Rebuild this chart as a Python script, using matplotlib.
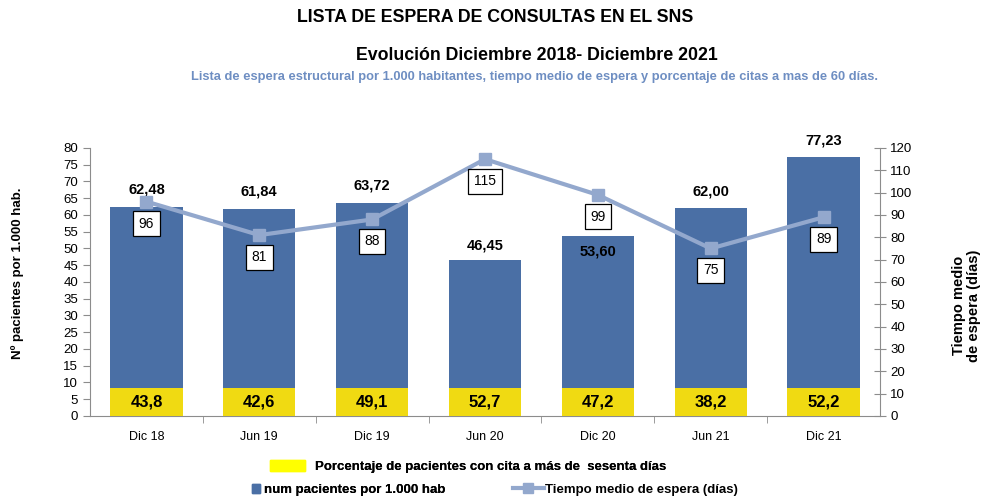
# Lista de espera de consultas en el SNS: barras + linea con doble eje
import numpy as np
import matplotlib
matplotlib.use("Agg")
import matplotlib.pyplot as plt
from matplotlib.patches import Patch
from matplotlib.lines import Line2D

periodos = ["Dic 18", "Jun 19", "Dic 19", "Jun 20", "Dic 20", "Jun 21", "Dic 21"]
pacientes_1000 = [62.48, 61.84, 63.72, 46.45, 53.60, 62.00, 77.23]
tiempo_medio = [96, 81, 88, 115, 99, 75, 89]
pct_mas_60 = [43.8, 42.6, 49.1, 52.7, 47.2, 38.2, 52.2]

AZUL = "#4A6FA5"
LINEA = "#93A8CD"
AMARILLO = "#F0DA12"
GRIS = "#8C8C8C"

plt.rcParams["font.family"] = ["Liberation Sans", "DejaVu Sans"]

fig = plt.figure(figsize=(9.87, 5.01), dpi=100)
ax = fig.add_axes([0.0912, 0.1697, 0.8004, 0.5349])
ax2 = ax.twinx()

x = np.arange(len(periodos))
ancho = 0.64
ax.bar(x, pacientes_1000, width=ancho, color=AZUL, zorder=2)

# cajas amarillas con el porcentaje al pie de cada barra
alto_caja = 8.4
ax.bar(x, [alto_caja] * len(x), width=ancho, color=AMARILLO, zorder=3)
for xi, p in zip(x, pct_mas_60):
    ax.text(xi, alto_caja / 2, f"{p:.1f}".replace(".", ","), ha="center", va="center",
            fontsize=12, fontweight="bold", zorder=4)

# etiquetas de las barras (Dic 20 queda dentro de la barra en el original)
despl = [17, 17, 17, 15, -15, 17, 17]
for xi, v, d in zip(x, pacientes_1000, despl):
    ax.annotate(f"{v:.2f}".replace(".", ","), (xi, v), xytext=(0, d * 0.72),
                textcoords="offset points", ha="center", va="center",
                fontsize=10.5, fontweight="bold", zorder=5)

ax2.plot(x, tiempo_medio, color=LINEA, lw=3, marker="s", ms=8, zorder=6)
for xi, t in zip(x, tiempo_medio):
    ax2.annotate(str(t), (xi, t), xytext=(0, -22 * 0.72), textcoords="offset points",
                 ha="center", va="center", fontsize=10, zorder=7,
                 bbox=dict(boxstyle="square,pad=0.4", fc="white", ec="black", lw=0.9))
ax2.set_zorder(ax.get_zorder() + 1)
ax2.patch.set_visible(False)

ax.set_xlim(-0.5, len(x) - 0.5)
ax.set_ylim(0, 80)
ax.set_yticks(np.arange(0, 81, 5))
ax2.set_ylim(0, 120)
ax2.set_yticks(np.arange(0, 121, 10))

ax.set_xticks(x)
ax.set_xticklabels(periodos, fontsize=9)
ax.set_xticks(np.arange(0.5, len(x) - 0.5), minor=True)
ax.tick_params(axis="x", which="major", length=0, pad=11)
ax.tick_params(axis="x", which="minor", length=5, color=GRIS, direction="out")
ax.tick_params(axis="y", length=5, color=GRIS, labelsize=9.5)
ax2.tick_params(axis="y", length=8, color=GRIS, direction="inout", labelsize=9.5)

for a in (ax, ax2):
    a.spines["top"].set_visible(False)
    for s in ("left", "right", "bottom"):
        a.spines[s].set_color(GRIS)
ax.spines["right"].set_visible(False)
ax2.spines["left"].set_visible(False)
ax2.spines["bottom"].set_visible(False)

fig.text(0.018, 0.455, "Nº pacientes por 1.000 hab.", rotation=90, ha="center", va="center",
         fontsize=9.5, fontweight="bold")
fig.text(0.979, 0.39, "Tiempo medio\nde espera (días)", rotation=90, ha="center", va="center",
         fontsize=10.5, fontweight="bold", linespacing=1.1)

fig.text(0.502, 0.965, "LISTA DE ESPERA DE CONSULTAS EN EL SNS", ha="center", va="center",
         fontsize=12.8, fontweight="bold")
fig.text(0.544, 0.89, "Evolución Diciembre 2018- Diciembre 2021", ha="center", va="center",
         fontsize=12.8, fontweight="bold")
fig.text(0.542, 0.847, "Lista de espera estructural por 1.000 habitantes, tiempo medio de espera y "
         "porcentaje de citas a mas de 60 días.", ha="center", va="center",
         fontsize=9.3, fontweight="bold", color="#6E8EC2")

# leyenda
props = dict(size=9.5, weight="bold")
leg1 = fig.legend(handles=[Patch(color="#FFFF00")],
                  labels=["Porcentaje de pacientes con cita a más de  sesenta días"],
                  loc="center left", bbox_to_anchor=(0.262, 0.069), frameon=False,
                  handlelength=2.6, handleheight=0.9, prop=props)
leg2 = fig.legend(handles=[Patch(color=AZUL)], labels=["num pacientes por 1.000 hab"],
                  loc="center left", bbox_to_anchor=(0.243, 0.022), frameon=False,
                  handlelength=0.6, handletextpad=0.3, prop=props)
fig.legend(handles=[Line2D([], [], color=LINEA, lw=3, marker="s", ms=7)],
           labels=["Tiempo medio de espera (días)"],
           loc="center left", bbox_to_anchor=(0.508, 0.022), frameon=False,
           handlelength=2.3, handletextpad=0.1, prop=props)
fig.add_artist(leg1)
fig.add_artist(leg2)

fig.savefig("out.png", dpi=100)
